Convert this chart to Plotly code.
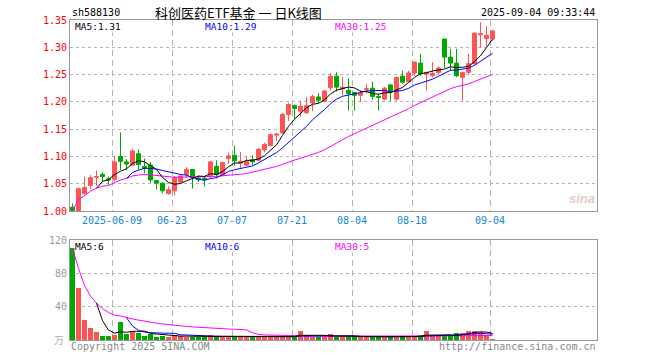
import plotly.graph_objects as go
import pandas as pd

# ---------------- data ----------------
tick_idx = [7, 17, 27, 37, 47, 57, 70]
tick_labels = ["2025-06-09", "06-23", "07-07", "07-21", "08-04", "08-18", "09-04"]

opens = [1.007, 0.999, 1.032, 1.047, 1.062, 1.067, 1.059, 1.058, 1.100, 1.090,
         1.084, 1.105, 1.082, 1.084, 1.056, 1.051, 1.032, 1.037, 1.053, 1.067,
         1.076, 1.060, 1.060, 1.064, 1.082, 1.067, 1.096, 1.102, 1.088, 1.084,
         1.094, 1.093, 1.112, 1.120, 1.139, 1.143, 1.177, 1.193, 1.183, 1.180,
         1.198, 1.209, 1.201, 1.226, 1.247, 1.224, 1.221, 1.217, 1.212, 1.223,
         1.225, 1.210, 1.205, 1.231, 1.205, 1.247, 1.237, 1.253, 1.271, 1.251,
         1.248, 1.254, 1.315, 1.282, 1.271, 1.245, 1.254, 1.270, 1.323, 1.316,
         1.315]
highs = [1.014, 1.043, 1.063, 1.066, 1.074, 1.071, 1.063, 1.101, 1.144, 1.095,
         1.113, 1.113, 1.096, 1.090, 1.057, 1.052, 1.045, 1.064, 1.067, 1.080,
         1.077, 1.065, 1.064, 1.092, 1.093, 1.090, 1.107, 1.120, 1.108, 1.100,
         1.102, 1.116, 1.125, 1.142, 1.142, 1.180, 1.198, 1.195, 1.202, 1.209,
         1.213, 1.216, 1.221, 1.253, 1.254, 1.245, 1.243, 1.218, 1.221, 1.233,
         1.237, 1.215, 1.227, 1.233, 1.246, 1.257, 1.257, 1.274, 1.288, 1.255,
         1.273, 1.265, 1.316, 1.297, 1.297, 1.255, 1.288, 1.327, 1.346, 1.339,
         1.332]
lows = [0.999, 0.998, 1.030, 1.040, 1.046, 1.054, 1.048, 1.054, 1.075, 1.075,
        1.084, 1.076, 1.069, 1.052, 1.040, 1.032, 1.030, 1.029, 1.052, 1.061,
        1.041, 1.053, 1.045, 1.059, 1.060, 1.064, 1.087, 1.083, 1.079, 1.082,
        1.084, 1.092, 1.107, 1.118, 1.128, 1.142, 1.165, 1.169, 1.173, 1.178,
        1.183, 1.198, 1.199, 1.221, 1.219, 1.212, 1.184, 1.184, 1.200, 1.215,
        1.204, 1.184, 1.203, 1.202, 1.202, 1.233, 1.236, 1.248, 1.248, 1.221,
        1.245, 1.251, 1.262, 1.257, 1.245, 1.202, 1.250, 1.268, 1.299, 1.302,
        1.312]
closes = [1.001, 1.041, 1.043, 1.061, 1.063, 1.063, 1.057, 1.090, 1.091, 1.086,
          1.110, 1.085, 1.078, 1.057, 1.051, 1.037, 1.039, 1.061, 1.064, 1.076,
          1.062, 1.057, 1.058, 1.090, 1.067, 1.089, 1.101, 1.092, 1.091, 1.091,
          1.090, 1.113, 1.122, 1.140, 1.141, 1.177, 1.195, 1.188, 1.192, 1.193,
          1.210, 1.203, 1.220, 1.247, 1.227, 1.227, 1.215, 1.212, 1.216, 1.224,
          1.210, 1.208, 1.225, 1.218, 1.245, 1.236, 1.253, 1.273, 1.251, 1.254,
          1.252, 1.262, 1.282, 1.271, 1.248, 1.254, 1.270, 1.326, 1.325, 1.322,
          1.330]
volumes = [110, 62, 24.5, 14.5, 10, 5.2, 5.2, 6.4, 22, 7.5,
           10.5, 8.5, 5.2, 7.5, 4.2, 5.2, 3.6, 5.5, 5.0, 4.0,
           3.6, 3.6, 3.8, 6.2, 4.8, 3.6, 3.6, 4.2, 3.6, 3.6,
           3.6, 3.6, 3.8, 4.2, 3.8, 4.5, 4.5, 4.2, 11, 4.8,
           4.2, 4.0, 4.2, 7.5, 3.8, 3.8, 3.8, 3.8, 3.8, 3.8,
           3.8, 3.8, 3.8, 3.8, 4.0, 3.8, 3.8, 4.0, 6.0, 11.4,
           5.0, 4.5, 5.0, 5.0, 8.5, 8.5, 11.4, 11.4, 9.4, 6.5,
           1.2]
price_ticks = [1.00, 1.05, 1.10, 1.15, 1.20, 1.25, 1.30, 1.35]
vol_ticks = [40, 80, 120]

# ---------------- styling ----------------
RED = "#ff5454"
GREEN = "#00a800"
MONO = "DejaVu Sans Mono"
L, R, T, B = 70, 597, 20, 340
X0, X1 = -2.5 / 6, (R - 72.5) / 6

x = list(range(len(closes)))
cs = pd.Series(closes)
vs = pd.Series(volumes)
ma5 = cs.rolling(5).mean()
ma10 = cs.rolling(10).mean()
ma30 = cs.rolling(30, min_periods=1).mean()
vma5 = vs.rolling(5).mean()
vma10 = vs.rolling(10).mean()
vma30 = vs.rolling(30, min_periods=1).mean()
vcolors = [RED if c >= o else GREEN for o, c in zip(opens, closes)]

fig = go.Figure()
fig.add_trace(go.Candlestick(
    x=x, open=opens, high=highs, low=lows, close=closes,
    increasing=dict(line=dict(color=RED, width=1), fillcolor=RED),
    decreasing=dict(line=dict(color=GREEN, width=1), fillcolor=GREEN),
    whiskerwidth=0, xaxis="x", yaxis="y", showlegend=False, hoverinfo="skip"))
for s, col in [(ma30, "#ff00ff"), (ma10, "#0000ff"), (ma5, "#000000")]:
    fig.add_trace(go.Scatter(x=x, y=s, mode="lines", line=dict(color=col, width=1),
                             xaxis="x", yaxis="y", showlegend=False, hoverinfo="skip"))
fig.add_trace(go.Bar(x=x, y=volumes, width=5 / 6, marker=dict(color=vcolors, line=dict(width=0)),
                     xaxis="x2", yaxis="y2", showlegend=False, hoverinfo="skip"))
for s, col in [(vma30, "#ff00ff"), (vma10, "#0000ff"), (vma5, "#000000")]:
    fig.add_trace(go.Scatter(x=x, y=s, mode="lines", line=dict(color=col, width=1),
                             xaxis="x2", yaxis="y2", showlegend=False, hoverinfo="skip"))

tickpos = [i - 2.5 / 6 for i in tick_idx]
axis_common = dict(showline=True, mirror=True, linecolor="#999999", linewidth=1,
                   zeroline=False, ticks="", fixedrange=True)
main_bottom = 211
fig.update_layout(
    width=660, height=360, margin=dict(l=L, r=660 - R, t=T, b=360 - B),
    paper_bgcolor="white", plot_bgcolor="white",
    boxgap=1 / 3, boxgroupgap=0,
    bargap=0,
    xaxis=dict(domain=[0, 1], anchor="y", range=[X0, X1], tickmode="array",
               tickvals=tickpos, ticktext=tick_labels,
               tickfont=dict(family=MONO, size=10, color="#1086d6"),
               showgrid=True, gridcolor="#b4b4b4", griddash="6px,4px", gridwidth=1,
               rangeslider=dict(visible=False), **axis_common),
    yaxis=dict(domain=[(B - main_bottom) / (B - T), 1], anchor="x", range=[1.0, 1.35],
               tickmode="array", tickvals=price_ticks,
               ticktext=["%.2f" % v for v in price_ticks],
               tickfont=dict(family=MONO, size=10, color="#ff0000"),
               showgrid=True, gridcolor="#b4b4b4", griddash="dot", **axis_common),
    xaxis2=dict(domain=[0, 1], anchor="y2", range=[X0, X1], matches="x", tickmode="array",
                tickvals=tickpos, showticklabels=False,
                showgrid=True, gridcolor="#b4b4b4", griddash="6px,4px", **axis_common),
    yaxis2=dict(domain=[0, 100 / (B - T)], anchor="x2", range=[0, 120],
                tickmode="array", tickvals=vol_ticks, ticktext=[str(v) for v in vol_ticks],
                tickfont=dict(family=MONO, size=10, color="#999999"),
                showgrid=True, gridcolor="#b4b4b4", griddash="dot", **axis_common),
)


def px(v):
    return (v - L) / (R - L)


def py(v):
    return (B - v) / (B - T)


def txt(s, x0, y0, color="#000000", size=10, anchor="left", family=MONO, **kw):
    fig.add_annotation(text=s, x=px(x0), y=py(y0), xref="paper", yref="paper",
                       xanchor=anchor, yanchor="middle", showarrow=False,
                       font=dict(family=family, size=size, color=color), **kw)


lab = dict(size=9.5, bgcolor="white", borderpad=0)
txt("sh588130", 70, 12)
txt("科创医药ETF基金 一 日K线图", 238, 12, size=13, anchor="center",
    family="Noto Sans CJK SC")
txt("2025-09-04 09:33:44", 597, 12, anchor="right")
txt("MA5:1.31", 74, 26, **lab)
txt("MA10:1.29", 204, 26, color="#0000ff", **lab)
txt("MA30:1.25", 334, 26, color="#ff00ff", **lab)
txt("MA5:6", 74, 246.5, **lab)
txt("MA10:6", 204, 246.5, color="#0000ff", **lab)
txt("MA30:5", 334, 246.5, color="#ff00ff", **lab)
txt("万", 66, 339, color="#b0b0b0", size=10, anchor="right", family="Noto Sans CJK SC")
txt("Copyright 2025 SINA.COM", 69, 346.5, color="#888888")
txt("http://finance.sina.com.cn", 598, 346.5, color="#888888", anchor="right")
txt("<b><i>sina</i></b>", 582, 198, color="#e6cccc", size=13, anchor="center",
    family="Liberation Sans")

fig.write_html("out.html", config={"displayModeBar": False},
               post_script="document.body.style.margin='0px';")
